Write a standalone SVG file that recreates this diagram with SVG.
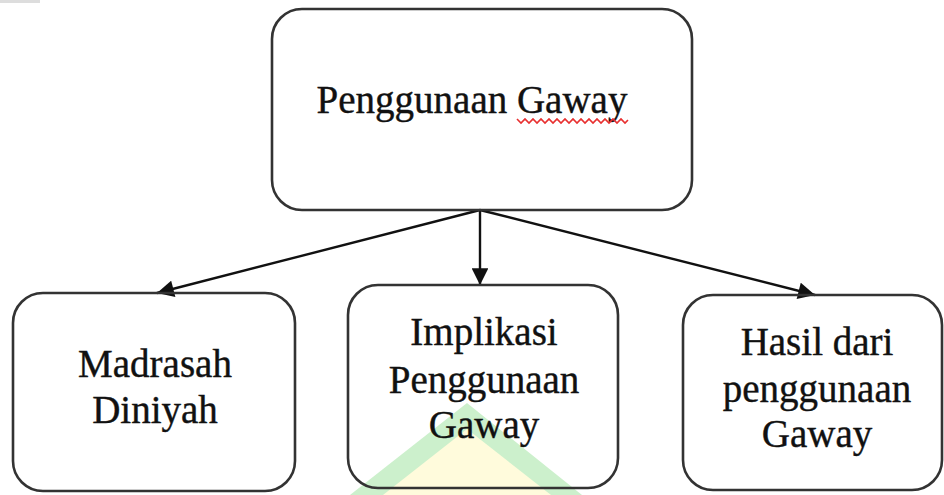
<svg xmlns="http://www.w3.org/2000/svg" width="944" height="495" viewBox="0 0 944 495">
<style>
.box{fill:none;stroke:#333;stroke-width:2.6}
.lbl{font-family:"Liberation Serif","Times New Roman",serif;font-size:39px;fill:#111;stroke:#111;stroke-width:0.4;text-anchor:middle}
.con{stroke:#111;stroke-width:2.4;fill:none}
</style>
<defs>
<marker id="arr" viewBox="0 0 10 10" refX="10" refY="5" markerWidth="7.5" markerHeight="7" markerUnits="strokeWidth" orient="auto">
<path d="M0,0 L10,5 L0,10 Z" fill="#111"/>
</marker>
</defs>
<rect x="0" y="0" width="944" height="495" fill="#fff"/>
<rect x="0" y="0" width="40" height="3" fill="#ddd"/>
<g id="watermark">
<polygon points="467,403 582,495 350,495" fill="#ccf0cc"/>
<polygon points="467,429 551,495 383,495" fill="#fffbdc"/>
</g>
<g id="connectors">
<line class="con" x1="480" y1="210" x2="157" y2="293" marker-end="url(#arr)"/>
<line class="con" x1="480" y1="210" x2="480" y2="285" marker-end="url(#arr)"/>
<line class="con" x1="480" y1="210" x2="815" y2="295" marker-end="url(#arr)"/>
</g>
<g id="n-top">
<rect class="box" x="272" y="9" width="420" height="201" rx="30"/>
<text class="lbl" x="472" y="113">Penggunaan Gaway</text>
<polyline points="517,119 521,123 525,119 529,123 533,119 537,123 541,119 545,123 549,119 553,123 557,119 561,123 565,119 569,123 573,119 577,123 581,119 585,123 589,119 593,123 597,119 601,123 605,119 609,123 613,119 617,123 621,119 625,123 628,120" fill="none" stroke="#e83030" stroke-width="1.6"/>
</g>
<g id="n-madrasah">
<rect class="box" x="13" y="293" width="282" height="198" rx="30"/>
<text class="lbl" x="155" y="377">Madrasah</text>
<text class="lbl" x="155" y="423">Diniyah</text>
</g>
<g id="n-implikasi">
<rect class="box" x="348" y="285" width="270" height="203" rx="30"/>
<text class="lbl" x="484" y="345">Implikasi</text>
<text class="lbl" x="484" y="393">Penggunaan</text>
<text class="lbl" x="484" y="438">Gaway</text>
</g>
<g id="n-hasil">
<rect class="box" x="683" y="295" width="259" height="195" rx="30"/>
<text class="lbl" x="817" y="355">Hasil dari</text>
<text class="lbl" x="817" y="402">penggunaan</text>
<text class="lbl" x="817" y="447">Gaway</text>
</g>
</svg>
